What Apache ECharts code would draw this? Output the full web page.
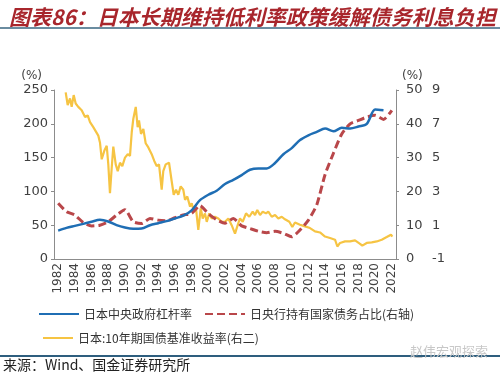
<!DOCTYPE html>
<html>
<head>
<meta charset="utf-8">
<script src="https://cdn.jsdelivr.net/npm/echarts/dist/echarts.min.js"></script>
<style>
html, body { margin: 0; padding: 0; background: #fff; }
#chart { width: 500px; height: 376px; }
</style>
</head>
<body>
<div id="chart"></div>
<script>
// 年份（类目轴）
var years = [];
for (var y = 1982; y <= 2022; y++) years.push(String(y));

// 日本中央政府杠杆率 (%), 1982-2021
var leverage = [42, 46, 49, 52, 55, 58, 55.5, 50, 46.5, 44.7,
  45, 50, 53, 56, 60, 64, 72, 87, 95, 101,
  111, 117, 124, 132, 134, 134, 142, 155, 164, 176,
  183, 188, 193, 189, 194, 193, 196, 200, 221, 220];

// 日央行持有国家债务占比 (%, 右轴), 1982-2022
var bojShare = [16.5, 14, 13, 10.8, 9.8, 10, 11, 13, 14.6, 11,
  10.5, 12, 11.5, 11.3, 12.2, 13, 13.5, 15.8, 13.4, 11.6,
  10.6, 12, 9.8, 9, 8.2, 7.8, 8.2, 7.6, 6.6, 8.6,
  11.5, 16, 25, 31.3, 37, 40, 41, 42, 42.5, 41.3, 44];

// 日本:10年期国债基准收益率 (%, 右二) —— 轴上位置与读数
var jgbTime = [1983.40, 1983.64, 1983.92, 1984.12, 1984.36, 1984.60, 1984.91, 1985.32, 1985.72, 1986.04,
  1986.32, 1986.71, 1986.92, 1987.31, 1987.51, 1987.72, 1988.03, 1988.32, 1988.51, 1988.71,
  1988.92, 1989.11, 1989.40, 1989.64, 1989.91, 1990.19, 1990.51, 1990.84, 1991.11, 1991.32,
  1991.51, 1991.80, 1992.03, 1992.19, 1992.43, 1992.71, 1992.99, 1993.31, 1993.71, 1994.02,
  1994.31, 1994.59, 1994.91, 1995.10, 1995.39, 1995.79, 1996.11, 1996.35, 1996.63, 1996.90,
  1997.19, 1997.50, 1997.71, 1997.98, 1998.31, 1998.51, 1998.78, 1999.02, 1999.30, 1999.59,
  1999.83, 2000.10, 2000.31, 2000.62, 2000.91, 2001.30, 2001.70, 2002.11, 2002.50, 2002.90,
  2003.30, 2003.70, 2004.02, 2004.30, 2004.62, 2005.02, 2005.41, 2005.82, 2006.10, 2006.37,
  2006.70, 2007.02, 2007.42, 2007.69, 2008.10, 2008.50, 2008.89, 2009.30, 2009.69, 2010.21,
  2010.57, 2010.89, 2011.49, 2012.09, 2012.69, 2013.29, 2013.89, 2014.49, 2015.09, 2015.69,
  2015.97, 2016.29, 2016.89, 2017.49, 2018.09, 2018.69, 2018.96, 2019.49, 2020.09, 2020.69,
  2021.29, 2021.89, 2022.40, 2022.56];
var jgbYield = [8.86, 8.11, 8.5, 8.0, 8.7, 8.2, 8.0, 7.8, 7.4, 7.5,
  7.1, 6.8, 6.9, 6.3, 5.9, 4.9, 5.4, 5.7, 4.6, 2.9,
  4.4, 5.65, 4.6, 4.2, 4.7, 4.5, 5.0, 5.2, 5.1, 6.5,
  7.3, 8.0, 6.8, 7.2, 6.4, 6.7, 5.85, 5.6, 5.2, 4.8,
  4.5, 4.6, 3.1, 4.2, 4.6, 4.7, 3.6, 2.8, 3.1, 2.8,
  3.3, 3.1, 2.5, 2.7, 2.1, 2.3, 1.8, 2.0, 0.73, 2.0,
  1.4, 1.7, 1.2, 1.7, 1.4, 1.5, 1.4, 1.2, 1.2, 1.4,
  1.0, 0.5, 1.0, 1.4, 1.2, 1.7, 1.5, 1.8, 1.6, 1.9,
  1.6, 1.8, 1.7, 1.8, 1.5, 1.6, 1.4, 1.5, 1.35, 1.2,
  0.89, 1.16, 1.03, 0.93, 0.83, 0.63, 0.57, 0.33, 0.24, 0.14,
  -0.26, -0.05, 0.04, 0.04, 0.1, -0.1, -0.21, -0.05, -0.02, 0.04,
  0.14, 0.3, 0.44, 0.33];

var myChart = echarts.init(document.getElementById('chart'));
var axisColor = '#8c8c8c';
var labelColor = '#404040';
var numFont = 'DejaVu Sans';
var cjkFont = 'Noto Sans CJK SC';

var option = {
  animation: false,
  backgroundColor: '#fff',
  title: {
    text: '图表86：日本长期维持低利率政策缓解债务利息负担',
    left: 4,
    top: 2,
    textStyle: {
      fontSize: 21,
      fontWeight: 'bold',
      fontStyle: 'italic',
      color: '#a8262c',
      fontFamily: cjkFont
    }
  },
  graphic: [
    { type: 'rect', left: 0, top: 27, shape: { width: 500, height: 2 }, style: { fill: '#6a8ca0' } },
    { type: 'rect', left: 0, top: 355, shape: { width: 500, height: 2 }, style: { fill: '#2e5e7e' } },
    {
      type: 'text', left: 3, top: 358,
      style: { text: '来源：Wind、国金证券研究所', fontSize: 14, fill: '#222', fontFamily: cjkFont }
    },
    {
      type: 'text', left: 410, top: 345,
      style: { text: '赵伟宏观探索', fontSize: 13, fill: '#c8c8c8', fontFamily: cjkFont }
    }
  ],
  legend: [
    {
      left: 33,
      top: 303,
      itemWidth: 40,
      itemHeight: 14,
      itemGap: 12,
      itemStyle: { opacity: 0 },
      data: ['日本中央政府杠杆率', '日央行持有国家债务占比(右轴)'],
      textStyle: { fontSize: 12, color: '#333', fontFamily: cjkFont }
    },
    {
      left: 37,
      top: 327,
      itemWidth: 30,
      itemHeight: 14,
      itemStyle: { opacity: 0 },
      data: ['日本:10年期国债基准收益率(右二)'],
      textStyle: { fontSize: 12, color: '#333', fontFamily: cjkFont }
    }
  ],
  grid: {
    left: 54,
    right: 104,
    top: 90,
    bottom: 117
  },
  xAxis: [
    {
      type: 'category',
      data: years,
      boundaryGap: true,
      axisLine: { lineStyle: { color: axisColor } },
      axisTick: { interval: 1, alignWithLabel: false, length: 3, lineStyle: { color: axisColor } },
      axisLabel: {
        interval: 1,
        rotate: 90,
        margin: 4,
        fontSize: 12,
        color: labelColor,
        fontFamily: numFont
      },
      splitLine: { show: false }
    },
    {
      type: 'value',
      min: 1982,
      max: 2023,
      show: false
    }
  ],
  yAxis: [
    {
      type: 'value',
      position: 'left',
      min: 0,
      max: 250,
      interval: 50,
      name: '(%)',
      nameLocation: 'end',
      nameGap: 8,
      nameTextStyle: { align: 'right', padding: [0, 12, 0, 0], fontSize: 12, color: labelColor, fontFamily: numFont },
      axisLine: { show: true, lineStyle: { color: axisColor } },
      axisTick: { show: true, length: 3, lineStyle: { color: axisColor } },
      axisLabel: { margin: 6, fontSize: 13, color: labelColor, fontFamily: numFont },
      splitLine: { show: false }
    },
    {
      type: 'value',
      position: 'right',
      min: 0,
      max: 50,
      interval: 10,
      name: '(%)',
      nameLocation: 'end',
      nameGap: 8,
      nameTextStyle: { align: 'left', padding: [0, 0, 0, 6], fontSize: 12, color: labelColor, fontFamily: numFont },
      axisLine: { show: true, lineStyle: { color: axisColor } },
      axisTick: { show: true, length: 3, lineStyle: { color: axisColor } },
      axisLabel: { margin: 10, fontSize: 13, color: labelColor, fontFamily: numFont },
      splitLine: { show: false }
    },
    {
      type: 'value',
      position: 'right',
      offset: 26,
      min: -1,
      max: 9,
      interval: 2,
      axisLine: { show: false },
      axisTick: { show: false },
      axisLabel: { margin: 10, fontSize: 13, color: labelColor, fontFamily: numFont },
      splitLine: { show: false }
    }
  ],
  series: [
    {
      name: '日本中央政府杠杆率',
      type: 'line',
      xAxisIndex: 0,
      yAxisIndex: 0,
      data: leverage,
      symbol: 'none',
      smooth: 0.3,
      z: 3,
      lineStyle: { color: '#1f6eb4', width: 2.5 },
      itemStyle: { color: '#1f6eb4' }
    },
    {
      name: '日央行持有国家债务占比(右轴)',
      type: 'line',
      xAxisIndex: 0,
      yAxisIndex: 1,
      data: bojShare,
      symbol: 'none',
      smooth: 0.2,
      z: 2,
      lineStyle: { color: '#b9474a', width: 3, type: [8, 4] },
      itemStyle: { color: '#b9474a' }
    },
    {
      name: '日本:10年期国债基准收益率(右二)',
      type: 'line',
      xAxisIndex: 1,
      yAxisIndex: 2,
      data: jgbTime.map(function (t, i) { return [t, jgbYield[i]]; }),
      symbol: 'none',
      z: 1,
      lineStyle: { color: '#f6c443', width: 2.2 },
      itemStyle: { color: '#f6c443' }
    }
  ]
};
myChart.setOption(option);
</script>
</body>
</html>
